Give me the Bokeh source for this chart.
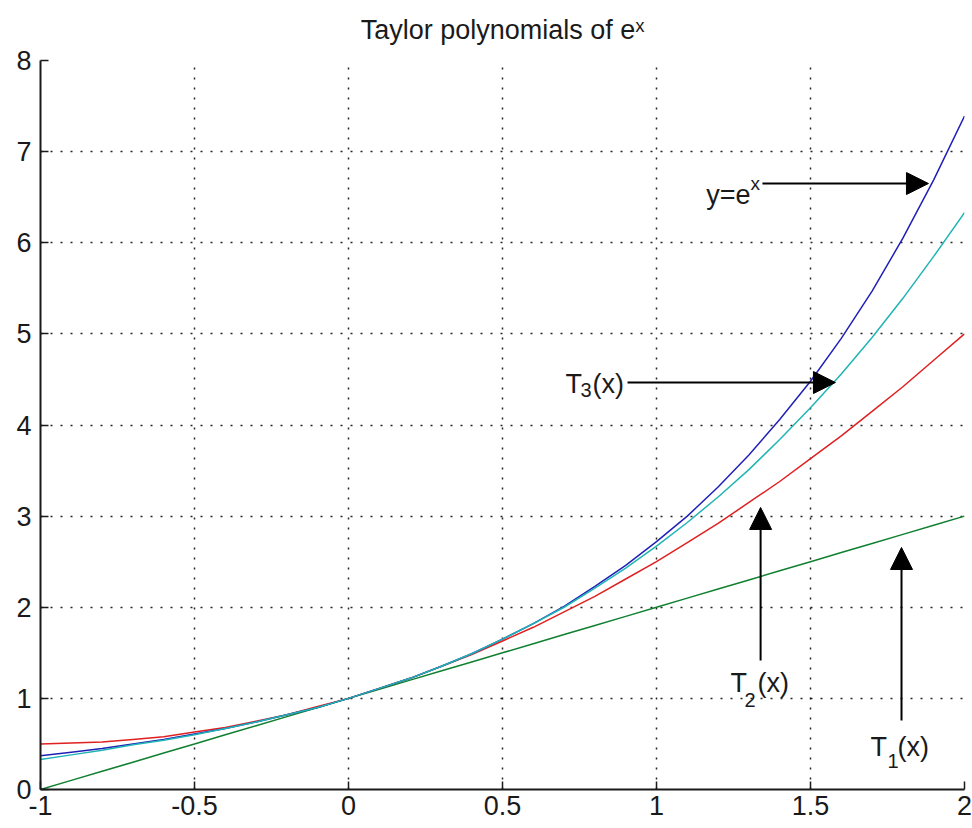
from bokeh.plotting import figure
from bokeh.models import Range1d, FixedTicker, Label, Arrow, NormalHead, Title
from bokeh.embed import file_html
from bokeh.resources import INLINE

# ---- data ----
x_vals = [-1.0, -0.9, -0.8, -0.7, -0.6, -0.5, -0.4, -0.3, -0.2, -0.1, 0.0,
          0.1, 0.2, 0.3, 0.4, 0.5, 0.6, 0.7, 0.8, 0.9, 1.0,
          1.1, 1.2, 1.3, 1.4, 1.5, 1.6, 1.7, 1.8, 1.9, 2.0]
exp_vals = [0.37, 0.41, 0.45, 0.50, 0.55, 0.61, 0.67, 0.74, 0.82, 0.90, 1.00,
            1.11, 1.22, 1.35, 1.49, 1.65, 1.82, 2.01, 2.23, 2.46, 2.72,
            3.00, 3.32, 3.67, 4.06, 4.48, 4.95, 5.47, 6.05, 6.69, 7.39]
t3_vals = [0.33, 0.38, 0.43, 0.49, 0.54, 0.60, 0.67, 0.74, 0.82, 0.90, 1.00,
           1.11, 1.22, 1.35, 1.49, 1.65, 1.82, 2.00, 2.21, 2.43, 2.67,
           2.93, 3.21, 3.51, 3.84, 4.19, 4.56, 4.96, 5.39, 5.85, 6.33]
t2_vals = [0.50, 0.51, 0.52, 0.55, 0.58, 0.63, 0.68, 0.75, 0.82, 0.91, 1.00,
           1.11, 1.22, 1.35, 1.48, 1.63, 1.78, 1.95, 2.12, 2.31, 2.50,
           2.71, 2.92, 3.15, 3.38, 3.63, 3.88, 4.15, 4.42, 4.71, 5.00]
t1_vals = [0.0, 0.1, 0.2, 0.3, 0.4, 0.5, 0.6, 0.7, 0.8, 0.9, 1.0,
           1.1, 1.2, 1.3, 1.4, 1.5, 1.6, 1.7, 1.8, 1.9, 2.0,
           2.1, 2.2, 2.3, 2.4, 2.5, 2.6, 2.7, 2.8, 2.9, 3.0]

x_ticks = [-1, -0.5, 0, 0.5, 1, 1.5, 2]
x_tick_labels = ["-1", "-0.5", "0", "0.5", "1", "1.5", "2"]
y_ticks = [0, 1, 2, 3, 4, 5, 6, 7, 8]
y_tick_labels = ["0", "1", "2", "3", "4", "5", "6", "7", "8"]

title_text = "Taylor polynomials of e\u02e3"

FONT = "Liberation Sans"
TXT = "#1a1a1a"

p = figure(width=972, height=828, output_backend="svg", toolbar_location=None,
           x_range=Range1d(-1, 2), y_range=Range1d(0, 8), title=title_text,
           min_border_left=40, min_border_right=8, min_border_top=60,
           min_border_bottom=39)
p.outline_line_color = None
p.background_fill_color = "white"
p.border_fill_color = "white"

p.title.align = "center"
p.title.text_font = FONT
p.title.text_font_size = "27px"
p.title.text_font_style = "normal"
p.title.text_color = TXT

# small empty spacer between the title and the frame
p.add_layout(Title(text=" ", text_font_size="8px", standoff=0), "above")

# axes
for ax in (p.xaxis[0], p.yaxis[0]):
    ax.axis_line_color = "#1a1a1a"
    ax.axis_line_width = 2
    ax.major_tick_in = 8
    ax.major_tick_out = 0
    ax.major_tick_line_width = 1.5
    ax.major_tick_line_color = "#1a1a1a"
    ax.minor_tick_line_color = None
    ax.major_label_text_font = FONT
    ax.major_label_text_font_size = "27px"
    ax.major_label_text_color = TXT
p.xaxis.ticker = FixedTicker(ticks=x_ticks)
p.yaxis.ticker = FixedTicker(ticks=y_ticks)
p.xaxis.major_label_overrides = dict(zip(x_ticks, x_tick_labels))
p.yaxis.major_label_overrides = dict(zip(y_ticks, y_tick_labels))
p.xaxis.major_label_standoff = 6
p.yaxis.major_label_standoff = 9

# grid
for g in (p.xgrid[0], p.ygrid[0]):
    g.grid_line_color = "black"
    g.grid_line_dash = "2 8"
    g.grid_line_width = 1.5
    g.grid_line_alpha = 0.85
p.xgrid.ticker = FixedTicker(ticks=x_ticks)
p.ygrid.ticker = FixedTicker(ticks=y_ticks)

# curves
p.line(x_vals, t1_vals, line_color="#108030", line_width=1.5)
p.line(x_vals, t2_vals, line_color="#e02020", line_width=1.5)
p.line(x_vals, exp_vals, line_color="#2020b8", line_width=1.5)
p.line(x_vals, t3_vals, line_color="#20b4b4", line_width=1.5)


def lab(x, y, text, size="27px", align="left"):
    p.add_layout(Label(x=x, y=y, text=text, text_font=FONT, text_font_size=size,
                       text_color=TXT, text_align=align, text_baseline="alphabetic"))


def arrow(x0, y0, x1, y1):
    p.add_layout(Arrow(end=NormalHead(size=22, fill_color="black", line_color="black",
                                      line_width=1),
                       x_start=x0, y_start=y0, x_end=x1, y_end=y1,
                       line_color="black", line_width=2))


# y = e^x
lab(1.305, 6.519, "y=e", align="right")
lab(1.305, 6.65, "x", size="19px")
arrow(1.344, 6.65, 1.883, 6.65)

# T3
lab(0.7045, 4.455, "T")
lab(0.7532, 4.379, "3", size="20px")
lab(0.7922, 4.455, "(x)")
arrow(0.906, 4.466, 1.581, 4.466)

# T2
lab(1.2403, 1.174, "T")
lab(1.2857, 0.977, "2", size="20px")
lab(1.3279, 1.174, "(x)")
arrow(1.338, 1.416, 1.338, 3.095)

# T1
lab(1.6948, 0.461, "T")
lab(1.75, 0.318, "1", size="20px")
lab(1.7825, 0.461, "(x)")
arrow(1.7955, 0.757, 1.7955, 2.656)

open("out.html", "w").write(file_html(p, INLINE))
